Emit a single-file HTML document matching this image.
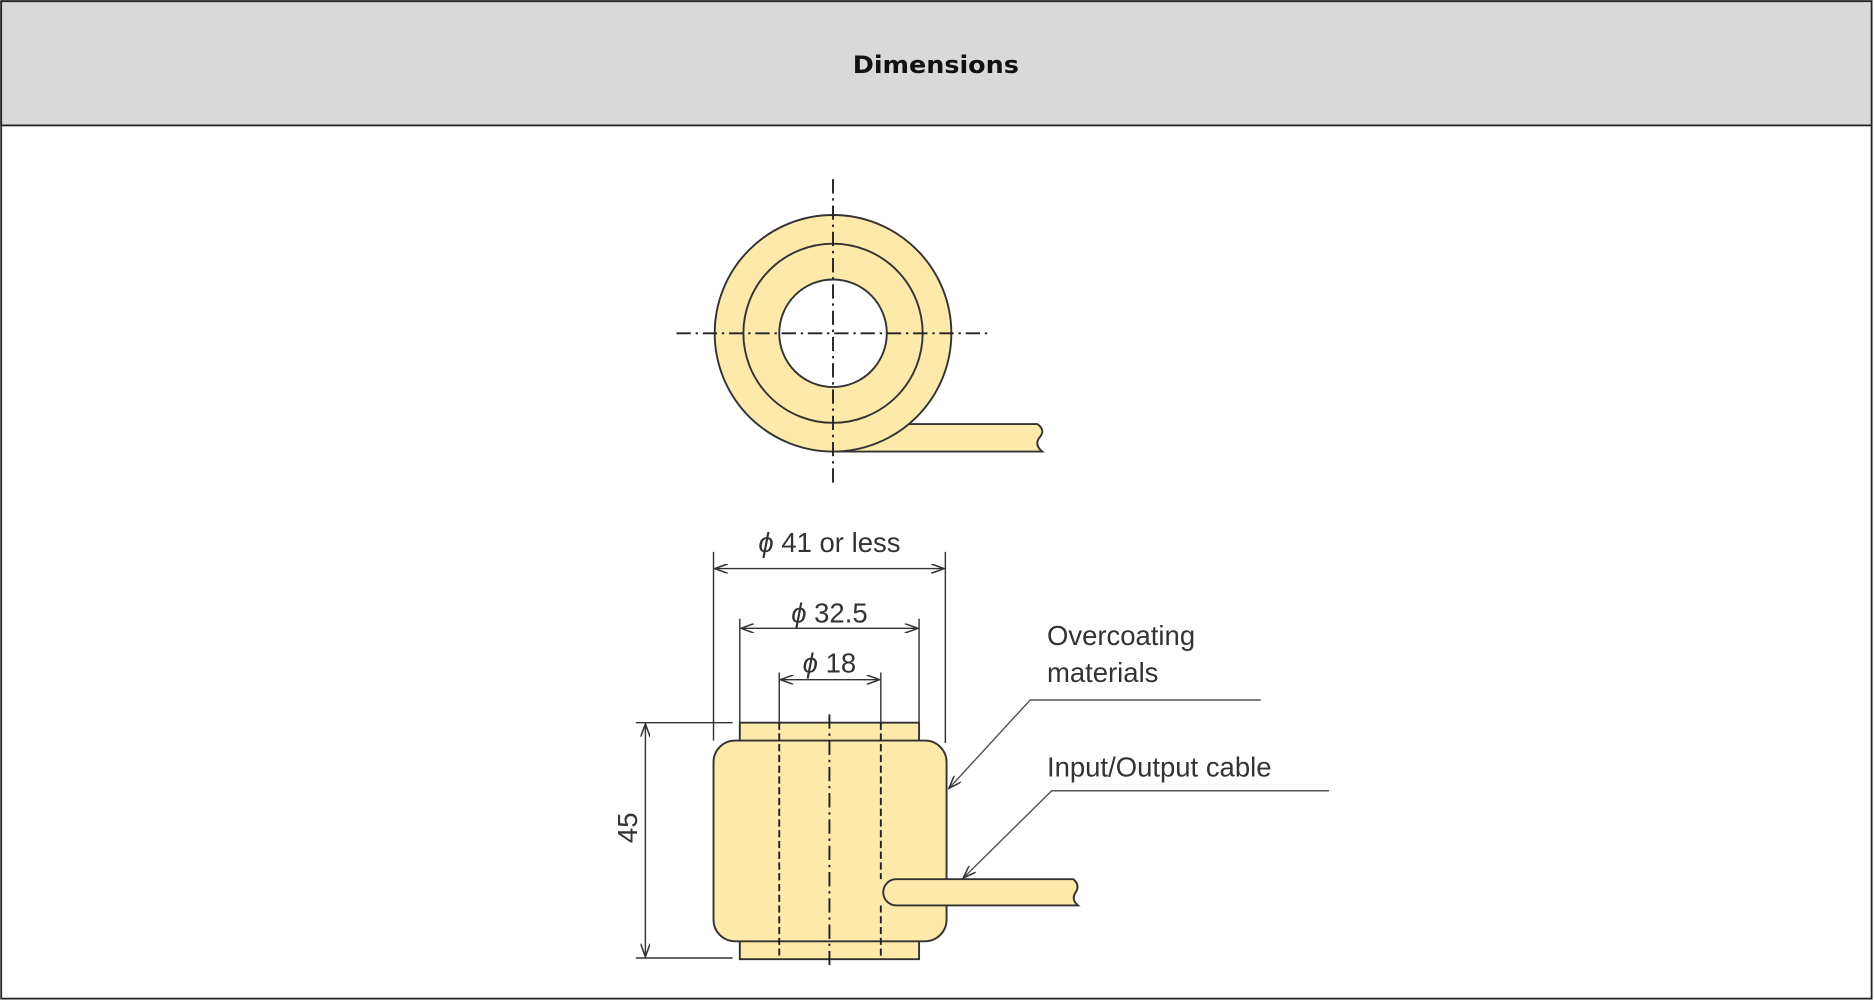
<!DOCTYPE html>
<html><head><meta charset="utf-8"><style>
html,body{margin:0;padding:0;background:#fff;}
svg{display:block;}
text{font-family:"Liberation Sans",Arial,sans-serif;fill:#333;}
</style></head><body>
<svg width="1874" height="1001" viewBox="0 0 1568 838" preserveAspectRatio="none" xmlns="http://www.w3.org/2000/svg">
<defs>
<marker id="ar" markerWidth="12" markerHeight="8" refX="11" refY="4" orient="auto-start-reverse" markerUnits="userSpaceOnUse">
<path d="M0,0 L11,4 L0,8" fill="none" stroke="#333" stroke-width="1.3"/>
</marker>
</defs>
<rect x="1" y="1" width="1565" height="835" fill="#fff" stroke="#222" stroke-width="1.5"/>
<rect x="1" y="1" width="1565" height="104" fill="#d9d9d9" stroke="#222" stroke-width="1.5"/>
<text x="783" y="61" text-anchor="middle" font-weight="bold" font-size="20" textLength="139" lengthAdjust="spacingAndGlyphs" style="fill:#111;font-family:'DejaVu Sans',sans-serif">Dimensions</text>

<!-- top view -->
<g stroke="#333" stroke-width="1.6">
<path d="M697,355 L868,355 Q875,360 870,366 Q865,372 872,378 L697,378 Z" fill="#fde9aa"/>
<circle cx="697" cy="279" r="99" fill="#fde9aa"/>
<circle cx="697" cy="279" r="75" fill="none"/>
<circle cx="697" cy="279" r="45" fill="#fff"/>
</g>
<g stroke="#222" stroke-width="1.6" stroke-dasharray="12,4,2,4">
<line x1="697" y1="150" x2="697" y2="408"/>
<line x1="566" y1="279" x2="828" y2="279"/>
</g>

<!-- side view -->
<g stroke="#333" stroke-width="1.6" fill="#fde9aa">
<rect x="619" y="605" width="150" height="16"/>
<rect x="619" y="787" width="150" height="16"/>
<rect x="597" y="620" width="195" height="168" rx="18" ry="18"/>
<path d="M750,736 L898,736 Q904,741 900,747 Q896,753 902,758 L750,758 A11,11 0 0 1 750,736 Z"/>
</g>
<g stroke="#222" stroke-width="1.6" stroke-dasharray="6,3">
<line x1="652" y1="605" x2="652" y2="803"/>
<line x1="737" y1="605" x2="737" y2="736"/>
<line x1="737" y1="758" x2="737" y2="803"/>
</g>
<line x1="694" y1="598" x2="694" y2="812" stroke="#222" stroke-width="1.6" stroke-dasharray="12,4,2,4"/>

<g stroke="#333" stroke-width="1.2" fill="none">
<line x1="597" y1="462" x2="597" y2="620"/>
<line x1="791" y1="462" x2="791" y2="622"/>
<line x1="598" y1="476" x2="790" y2="476" marker-start="url(#ar)" marker-end="url(#ar)"/>
<line x1="619" y1="518" x2="619" y2="605"/>
<line x1="769" y1="518" x2="769" y2="605"/>
<line x1="620" y1="526" x2="768" y2="526" marker-start="url(#ar)" marker-end="url(#ar)"/>
<line x1="652" y1="563" x2="652" y2="605"/>
<line x1="737" y1="563" x2="737" y2="605"/>
<line x1="653" y1="569" x2="736" y2="569" marker-start="url(#ar)" marker-end="url(#ar)"/>
<line x1="532" y1="605" x2="613" y2="605"/>
<line x1="532" y1="802" x2="613" y2="802"/>
<line x1="540" y1="606" x2="540" y2="801" marker-start="url(#ar)" marker-end="url(#ar)"/>
<polyline points="1055,586 862,586 794,660" marker-end="url(#ar)" stroke="#555"/>
<polyline points="1112,662 880,662 806,735" marker-end="url(#ar)" stroke="#555"/>
</g>

<text x="694" y="462" text-anchor="middle" font-size="23"><tspan font-style="italic">ϕ</tspan> 41 or less</text>
<text x="694" y="521" text-anchor="middle" font-size="23"><tspan font-style="italic">ϕ</tspan> 32.5</text>
<text x="694" y="563" text-anchor="middle" font-size="23"><tspan font-style="italic">ϕ</tspan> 18</text>
<text transform="translate(533,693) rotate(-90)" text-anchor="middle" font-size="23">45</text>
<text x="876" y="540" font-size="23">Overcoating</text>
<text x="876" y="571" font-size="23">materials</text>
<text x="876" y="650" font-size="23">Input/Output cable</text>
</svg>
</body></html>
